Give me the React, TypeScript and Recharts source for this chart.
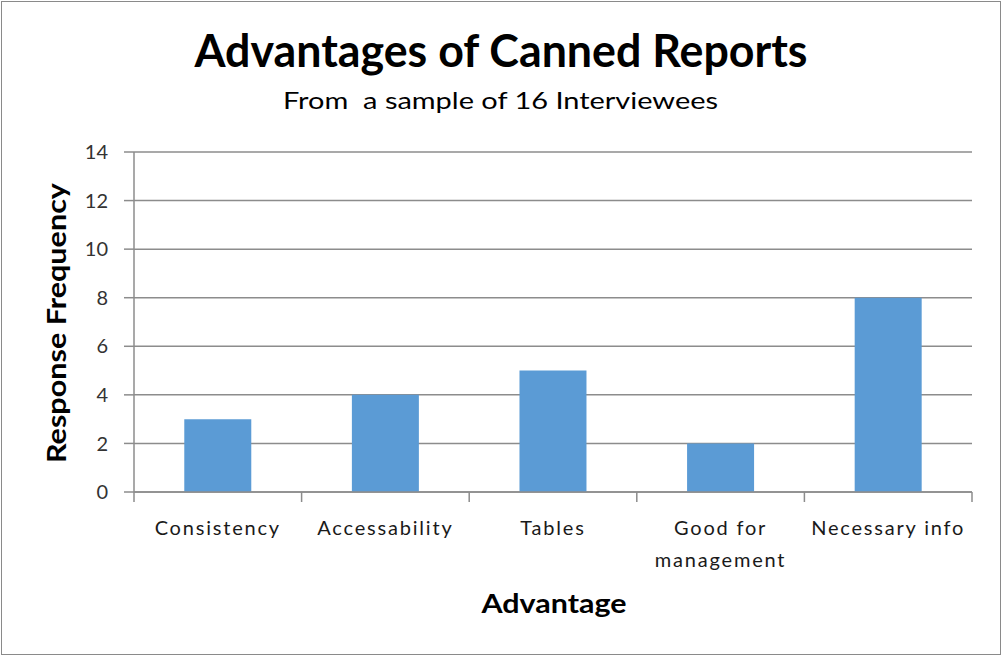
import React from "react";
import { BarChart, Bar, XAxis, YAxis, CartesianGrid, Label, Text } from "recharts";

const categories = ["Consistency", "Accessability", "Tables", "Good for management", "Necessary info"];
const responseFrequency = [3, 4, 5, 2, 8];
const yTicks = [0, 2, 4, 6, 8, 10, 12, 14];

const title = "Advantages of Canned Reports";
const subtitle = "From  a sample of 16 Interviewees";
const xTitle = "Advantage";
const yTitle = "Response Frequency";

const data = categories.map((name, i) => ({ name, value: responseFrequency[i] }));

const FONT = "Lato, 'Open Sans', sans-serif";
const AXIS_COLOR = "#8c8c8c";
const TEXT_COLOR = "#1a1a1a";

const XTick = (props: any) => {
  const { x, y, payload, index } = props;
  const half = payload.offset ?? 0;
  const isLast = index === categories.length - 1;
  return (
    <g>
      <line x1={x - half} x2={x - half} y1={y - 10} y2={y} stroke={AXIS_COLOR} strokeWidth={1.5} />
      {isLast && (
        <line x1={x + half} x2={x + half} y1={y - 10} y2={y} stroke={AXIS_COLOR} strokeWidth={1.5} />
      )}
      <Text
        x={x}
        y={y + 19}
        width={half * 2}
        textAnchor="middle"
        verticalAnchor="start"
        lineHeight={32}
        fill={TEXT_COLOR}
        fontFamily={FONT}
        fontSize={20}
        style={{ fontFamily: FONT, fontSize: 20, letterSpacing: "1.8px" }}
      >
        {payload.value}
      </Text>
    </g>
  );
};

const YTitle = (props: any) => {
  const vb = props.viewBox || { x: 0, y: 0, width: 0, height: 0 };
  const cx = vb.x + 66;
  const cy = vb.y + vb.height / 2 + 1;
  return (
    <text
      x={cx}
      y={cy}
      transform={`rotate(-90 ${cx} ${cy})`}
      textAnchor="middle"
      fontFamily={FONT}
      fontWeight={700}
      fontSize={26}
      fill="#000"
      textLength={280}
      lengthAdjust="spacingAndGlyphs"
    >
      {yTitle}
    </text>
  );
};

const XTitle = (props: any) => {
  const vb = props.viewBox || { x: 0, y: 0, width: 0, height: 0 };
  const cx = vb.x + vb.width / 2 + 1;
  const cy = vb.y + 121;
  return (
    <text
      x={cx}
      y={cy}
      textAnchor="middle"
      fontFamily={FONT}
      fontWeight={700}
      fontSize={26}
      fill="#000"
      textLength={145}
      lengthAdjust="spacingAndGlyphs"
    >
      {xTitle}
    </text>
  );
};

export default function App() {
  return (
    <div style={{ position: "absolute", left: 0, top: 0, width: 1002, height: 656, background: "#fff" }}>
      <div
        style={{
          position: "absolute",
          left: 1,
          top: 1,
          width: 1000,
          height: 654,
          border: "1px solid #8a8a8a",
          boxSizing: "border-box",
        }}
      />
      <div style={{ position: "absolute", left: 0, top: 0 }}>
        <BarChart
          width={1002}
          height={656}
          data={data}
          margin={{ top: 152, right: 30, bottom: 0, left: 0 }}
          barCategoryGap="30%"
        >
          <CartesianGrid vertical={false} stroke={AXIS_COLOR} strokeWidth={1.5} />
          <XAxis
            dataKey="name"
            height={164}
            tickLine={false}
            tickSize={10}
            tickMargin={0}
            interval={0}
            axisLine={{ stroke: AXIS_COLOR, strokeWidth: 1.5 }}
            tick={<XTick />}
          >
            <Label content={<XTitle />} />
          </XAxis>
          <YAxis
            width={134}
            domain={[0, 14]}
            ticks={yTicks}
            interval={0}
            tickSize={10}
            tickMargin={16}
            axisLine={{ stroke: AXIS_COLOR, strokeWidth: 1.5 }}
            tickLine={{ stroke: AXIS_COLOR, strokeWidth: 1.5 }}
            tick={{ fill: "#333333", fontSize: 20, fontFamily: FONT }}
          >
            <Label content={<YTitle />} />
          </YAxis>
          <Bar dataKey="value" fill="#5B9BD5" isAnimationActive={false} />
        </BarChart>
      </div>
      <svg
        width={1002}
        height={656}
        style={{ position: "absolute", left: 0, top: 0, pointerEvents: "none" }}
      >
        <text
          x={501}
          y={67}
          textAnchor="middle"
          fontFamily={FONT}
          fontWeight={700}
          fontSize={46}
          fill="#000"
          textLength={613}
          lengthAdjust="spacingAndGlyphs"
        >
          {title}
        </text>
        <text
          x={500.5}
          y={109}
          textAnchor="middle"
          fontFamily={FONT}
          fontSize={24}
          fill="#000"
          textLength={435}
          lengthAdjust="spacingAndGlyphs"
          style={{ whiteSpace: "pre" }}
        >
          {subtitle}
        </text>
      </svg>
    </div>
  );
}
